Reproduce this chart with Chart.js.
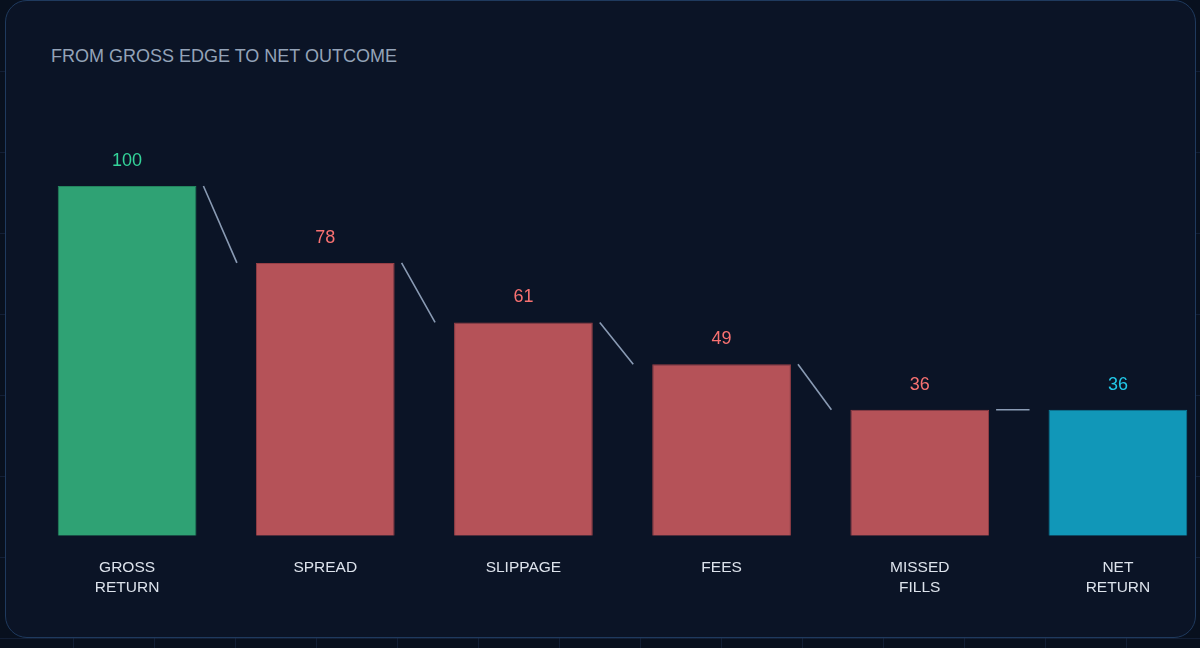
<!DOCTYPE html>
<html>
<head>
<meta charset="utf-8">
<script src="https://cdn.jsdelivr.net/npm/chart.js@4.4.1/dist/chart.umd.min.js"></script>
<style>
  html, body { margin: 0; padding: 0; }
  body {
    width: 1200px; height: 648px; overflow: hidden; position: relative;
    background-color: #08101e;
    background-image:
      linear-gradient(to right, rgba(40,60,95,0.35) 1px, transparent 1px),
      linear-gradient(to bottom, rgba(40,60,95,0.35) 1px, transparent 1px);
    background-size: 81px 81px;
    background-position: -8px -10px;
    font-family: "Liberation Sans", Arial, sans-serif;
  }
  #card {
    position: absolute; left: 5px; top: 0px; width: 1189px; height: 636px;
    background: #0b1426; border: 1px solid #1f3a5e; border-radius: 22px;
    overflow: hidden;
  }
  #title {
    position: absolute; left: 45px; top: 45px; line-height: 20px;
    font-size: 18px; color: #94a3b8;
  }
  #wrap { position: absolute; left: 0px; top: 90px; width: 1211px; height: 540px; }
</style>
</head>
<body>
<div id="card">
  <div id="title">FROM GROSS EDGE TO NET OUTCOME</div>
  <div id="wrap"><canvas id="waterfall"></canvas></div>
</div>
<script>
// datos del gráfico
const categorias = [['GROSS', 'RETURN'], 'SPREAD', 'SLIPPAGE', 'FEES', ['MISSED', 'FILLS'], ['NET', 'RETURN']];
const valores = [100, 78, 61, 49, 36, 36];
const coloresBarra = ['#2fa274', '#b55258', '#b55258', '#b55258', '#b55258', '#1197b8'];
const coloresBorde = ['#23855e', '#973f46', '#973f46', '#973f46', '#973f46', '#0c7d9a'];
const coloresValor = ['#34d399', '#f87171', '#f87171', '#f87171', '#f87171', '#22c8e8'];

// plugin para conectores y etiquetas de valor
const conectores = {
    id: 'conectores',
    afterDatasetsDraw(chart) {
        const ctx = chart.ctx;
        const meta = chart.getDatasetMeta(0);
        ctx.save();
        ctx.strokeStyle = '#8a9bb4';
        ctx.lineWidth = 1.6;
        for (let i = 0; i < meta.data.length - 1; i++) {
            const a = meta.data[i], b = meta.data[i + 1];
            ctx.beginPath();
            ctx.moveTo(a.x + a.width / 2 + 7, a.y);
            ctx.lineTo(b.x - b.width / 2 - 19, b.y);
            ctx.stroke();
        }
        ctx.font = '18px "Liberation Sans", Arial, sans-serif';
        ctx.textAlign = 'center';
        ctx.textBaseline = 'middle';
        meta.data.forEach((bar, i) => {
            ctx.fillStyle = coloresValor[i];
            ctx.fillText(String(valores[i]), bar.x, bar.y - 25);
        });
        ctx.restore();
    }
};

const ctx = document.getElementById('waterfall').getContext('2d');
window.grafico = new Chart(ctx, {
    type: 'bar',
    data: {
        labels: categorias,
        datasets: [{
            data: valores,
            backgroundColor: coloresBarra,
            borderColor: coloresBorde,
            borderWidth: 1,
            categoryPercentage: 1,
            barPercentage: 0.7
        }]
    },
    options: {
        responsive: true,
        maintainAspectRatio: false,
        animation: false,
        layout: { padding: { left: 22, right: 0, top: 95, bottom: 11 } },
        plugins: { legend: { display: false }, tooltip: { enabled: false } },
        scales: {
            x: {
                grid: { display: false, drawTicks: false },
                border: { display: false },
                ticks: {
                    color: '#dde3ec',
                    padding: 22,
                    font: { size: 15.5, family: '"Liberation Sans", Arial, sans-serif', lineHeight: 1.3 },
                    maxRotation: 0
                }
            },
            y: { display: false, min: 0, max: 100 }
        }
    },
    plugins: [conectores]
});
</script>
</body>
</html>
